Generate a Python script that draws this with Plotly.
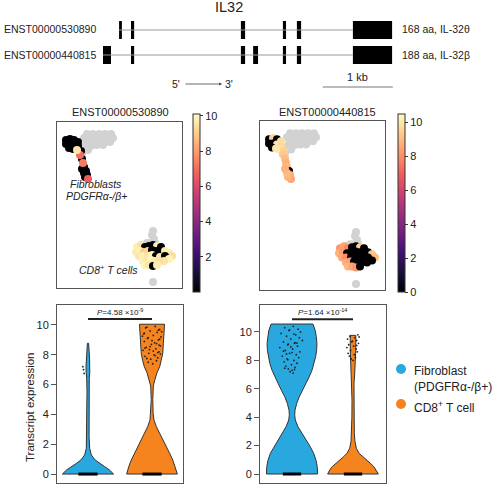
import plotly.graph_objects as go

W, H = 492, 486
FONT = "Liberation Sans, Arial, sans-serif"
BLUE = "#29A8E0"
ORANGE = "#F5841F"
GRAY_PT = "#D2D2D2"
EDGE = "#333333"

def px(x):
    return x / W

def py(y):
    return 1 - y / H

# ---------------- gene structure data (bp, relative to gene start) ----------------
gene_name = "IL32"
transcripts = ["ENST00000530890", "ENST00000440815"]
proteins = ["168 aa, IL-32θ", "188 aa, IL-32β"]
exon_starts_530890 = [230, 400, 1970, 2570, 2770, 3570]
exon_ends_530890 = [270, 445, 2030, 2615, 2830, 4130]
exon_starts_440815 = [0, 400, 1970, 2145, 2570, 2770, 3570]
exon_ends_440815 = [115, 445, 2030, 2215, 2615, 2830, 4130]
scale_bar_start = 3140
scale_bar_length = 1000  # 1 kb

# ---------------- UMAP data (embedding coordinates) ----------------
other_x = [30, 36, 42, 48, 54, 27, 33, 39, 45, 51, 56, 30, 36, 42, 48, 53, 28, 34, 40, 46, 26, 31, 25,
           96, 95, 97, 94, 98, 90, 86, 100, 96]
other_y = [12, 12, 12, 12, 12, 16, 16, 16, 16, 16, 16, 20, 20, 20, 20, 20, 24, 24, 23, 23, 28, 28, 32,
           109, 113, 117, 121, 121, 121, 123, 126, 160]

fib_x = [9, 13, 17, 21, 9, 13, 17, 21, 12, 16, 20, 24, 23, 25, 26, 27, 29, 30, 31, 28, 27, 25]
fib_y = [18, 17, 18, 20, 22, 22, 23, 24, 26, 27, 28, 29, 33, 37, 41, 45, 49, 53, 57, 55, 51, 47]
fib_expr_530890 = [0, 0, 0, 0, 0, 0, 0, 0, 0, 0, 9.6, 0, 7.0, 0, 7.3, 0, 0, 0, 6.6, 0, 0, 0]
fib_expr_440815 = [0, 9.5, 0, 9.8, 0, 0, 10, 9.7, 0, 10, 10, 9.5, 9.3, 9.0, 8.8, 9.0, 0, 8.7, 8.5, 8.8, 9.0, 8.8]

cd8_x = [80, 84, 88, 79, 83, 87, 82, 86,
         92, 96, 100, 104, 91, 95, 99, 103, 91, 95, 99, 103,
         108, 112, 115, 108, 112, 107,
         86, 90, 94, 98, 102, 88, 92, 96, 100]
cd8_y = [125, 123, 125, 130, 129, 130, 134, 134,
         124, 123, 124, 125, 129, 128, 129, 130, 134, 133, 134, 135,
         129, 131, 134, 134, 137, 139,
         139, 138, 138, 139, 139, 143, 143, 144, 143]
cd8_expr_530890 = [9.8, 9.5, 0, 9.7, 9.9, 9.0, 9.6, 9.8,
                   0, 0, 9.8, 0, 9.2, 0, 0, 0, 9.5, 9.9, 0, 9.6,
                   9.7, 9.8, 9.4, 0, 9.9, 9.5,
                   9.8, 9.6, 10, 9.7, 9.4, 9.9, 9.6, 0, 9.8]
cd8_expr_440815 = [8.2, 8.5, 7.8, 8.8, 8.3, 0, 8.6, 8.0,
                   0, 0, 9.5, 0, 0, 0, 0, 0, 0, 0, 0, 0,
                   0, 9.2, 9.0, 0, 0, 0,
                   8.7, 8.4, 0, 0, 0, 8.9, 8.5, 8.2, 0]

# ---------------- violin data (density profiles, normalized) ----------------
groups = ["Fibroblast<br>(PDGFRα-/β+)", "CD8<sup>+</sup> T cell"]
fibA_levels = [0, 0.27, 0.5, 0.72, 0.94, 1.28, 1.73, 2.5, 4, 5.5, 6.4, 6.8, 7.2, 7.7, 8.2, 8.77]
fibA_density = [1.0, 0.84, 0.65, 0.45, 0.28, 0.13, 0.066, 0.043, 0.039, 0.039, 0.05, 0.07, 0.078, 0.062, 0.047, 0.023]
cd8A_levels = [0, 0.49, 0.94, 1.39, 1.83, 2.28, 2.73, 3.18, 3.62, 4.07, 5.0, 5.9, 6.3, 6.8, 7.2, 7.6, 8.1, 8.77, 9.4, 9.8, 10.05]
cd8A_density = [0.99, 0.91, 0.81, 0.69, 0.56, 0.43, 0.30, 0.17, 0.078, 0.043, 0.031, 0.051, 0.106, 0.196, 0.30, 0.365, 0.42, 0.443, 0.47, 0.482, 0.49]
fibB_levels = [0, 0.52, 0.99, 1.46, 1.92, 2.39, 2.86, 3.33, 3.8, 4.15, 4.5, 4.97, 5.44, 5.9, 6.38, 6.85, 7.3, 7.8, 8.26, 8.7, 9.2, 9.67, 10.1, 10.56]
fibB_density = [1.0, 0.984, 0.934, 0.844, 0.712, 0.556, 0.389, 0.233, 0.128, 0.105, 0.117, 0.183, 0.284, 0.416, 0.545, 0.673, 0.778, 0.868, 0.922, 0.961, 0.973, 0.946, 0.907, 0.817]
cd8B_levels = [0, 0.28, 0.52, 0.75, 0.99, 1.22, 1.46, 1.81, 2.28, 2.86, 4, 5.2, 6.4, 7.1, 7.8, 8.7, 9.76]
cd8B_density = [0.99, 0.91, 0.81, 0.68, 0.52, 0.365, 0.235, 0.13, 0.078, 0.051, 0.043, 0.039, 0.039, 0.067, 0.09, 0.106, 0.11]
medians = [0, 0, 0, 0]

# strip points (values and jitter offsets)
fibA_pts = [7.2, 6.75, 7.0]
fibA_jit = [-0.08, -0.06, -0.07]
cd8A_pts = [9.9, 9.8, 9.7, 9.6, 9.5, 9.4, 9.3, 9.2, 9.1, 9.0, 8.9, 8.8, 8.7, 8.6, 8.5, 8.4, 8.3, 8.2, 8.1, 8.0, 7.9, 7.8, 7.7, 7.6, 7.5, 7.4,
            9.85, 9.55, 9.25, 8.95, 8.65, 8.35, 8.05, 7.75,
            9.65, 9.15, 8.75, 8.45, 8.25, 7.95, 9.45, 9.05, 8.55, 8.15]
cd8A_jit = [0.05, -0.10, 0.12, -0.03, 0.08, -0.13, 0.02, 0.14, -0.07, 0.10, -0.12, 0.04, -0.01, 0.13, -0.09, 0.06, -0.14, 0.11, -0.05, 0.03, -0.11, 0.09, -0.02, 0.07, -0.06, 0.01,
            -0.08, 0.15, -0.15, 0.00, 0.11, -0.04, 0.13, -0.08,
            0.10, -0.06, 0.07, -0.11, 0.02, 0.05, -0.12, 0.12, -0.03, 0.09]
fibB_pts = [10.4, 10.3, 10.2, 10.1, 10.0, 9.9, 9.8, 9.7, 9.6, 9.5, 9.4, 9.3, 9.2, 9.1, 9.0, 8.9, 8.8, 8.7, 8.6, 8.5, 8.4, 8.3, 8.2, 8.1, 8.0, 7.9, 7.8, 7.7, 7.6, 7.5, 7.4, 7.3, 7.2, 7.1,
            9.25, 9.15, 9.22, 8.65, 8.55, 8.45, 9.85, 10.15, 7.45, 7.35, 8.95, 8.05]
fibB_jit = [0.02, -0.12, 0.10, -0.05, 0.14, -0.18, 0.06, -0.09, 0.12, -0.02, 0.17, -0.14, 0.04, -0.07, 0.09, -0.20, 0.01, -0.11, 0.13, -0.04, 0.07, -0.16, 0.11, -0.08, 0.03, -0.13, 0.08, -0.01, -0.10, 0.05, -0.06, 0.00, -0.03, 0.02,
            0.05, -0.06, 0.08, -0.14, 0.00, -0.09, 0.03, -0.04, -0.12, 0.04, -0.02, -0.07]
cd8B_pts = [9.8, 9.7, 9.6, 9.5, 9.4, 9.3, 9.2, 9.1, 9.0, 8.9, 8.8, 8.7, 8.6, 8.5, 8.4, 8.3, 8.2, 8.1, 8.0, 9.65, 9.35, 9.05]
cd8B_jit = [0.08, -0.05, 0.03, -0.09, 0.06, -0.02, 0.09, -0.07, 0.01, -0.10, 0.05, -0.04, 0.07, -0.08, 0.02, -0.06, 0.04, -0.03, 0.00, 0.10, -0.01, 0.06]

p_values = ["<i>P</i>=4.58 ×10<sup>-9</sup>", "<i>P</i>=1.64 ×10<sup>-14</sup>"]

fig = go.Figure()

# ---------------- gene structure ----------------
for row, (st, en) in enumerate([(exon_starts_530890, exon_ends_530890), (exon_starts_440815, exon_ends_440815)], start=1):
    fig.add_trace(go.Scatter(x=[st[0], st[-1]], y=[row, row], mode="lines",
                             line=dict(color="#9a9a9a", width=1.2), xaxis="x", yaxis="y",
                             showlegend=False, hoverinfo="skip"))
    fig.add_trace(go.Bar(base=st, x=[e - s for s, e in zip(st, en)], y=[row] * len(st),
                         orientation="h", width=0.72, marker=dict(color="black", line=dict(width=0)),
                         xaxis="x", yaxis="y", showlegend=False, hoverinfo="skip"))
fig.add_trace(go.Scatter(x=[scale_bar_start, scale_bar_start + scale_bar_length], y=[3.28, 3.28],
                         mode="lines", line=dict(color="#777", width=1), xaxis="x", yaxis="y",
                         showlegend=False, hoverinfo="skip"))

# ---------------- UMAPs ----------------
nf = len(fib_x)
orderA = sorted(range(nf), key=lambda i: fib_expr_530890[i])
xA = [fib_x[i] for i in orderA] + cd8_x
yA = [fib_y[i] for i in orderA] + cd8_y
vA = [fib_expr_530890[i] for i in orderA] + cd8_expr_530890
xB = fib_x + cd8_x
yB = fib_y + cd8_y
vB = fib_expr_440815 + cd8_expr_440815

umap_specs = [
    ("x2", "y2", xA, yA, vA, 10.1, [2, 4, 6, 8, 10], 193),
    ("x3", "y3", xB, yB, vB, 10.5, [0, 2, 4, 6, 8, 10], 398),
]
for xa, ya, xs, ys, vals, cmax, tv, cbx in umap_specs:
    fig.add_trace(go.Scatter(x=other_x, y=other_y, mode="markers", xaxis=xa, yaxis=ya,
                             marker=dict(size=8, color=GRAY_PT, line=dict(width=0)),
                             showlegend=False, hoverinfo="skip"))
    fig.add_trace(go.Scatter(
        x=xs, y=ys, mode="markers", xaxis=xa, yaxis=ya, showlegend=False, hoverinfo="skip",
        marker=dict(size=8, color=vals, colorscale="Magma", cmin=0, cmax=cmax, line=dict(width=0),
                    showscale=True,
                    colorbar=dict(x=px(cbx), xanchor="left", xpad=0, y=py(114), yanchor="top", ypad=0,
                                  len=178, lenmode="pixels", thickness=7, thicknessmode="pixels",
                                  outlinewidth=1, outlinecolor=EDGE, tickvals=tv, ticks="outside",
                                  ticklen=3, tickcolor=EDGE, tickfont=dict(size=11, color="#222", family=FONT)))))

# ---------------- violins ----------------
def violin_poly(center, levels, dens, hw):
    xs = [center + hw * d for d in dens] + [center - hw * d for d in reversed(dens)]
    ys = list(levels) + list(reversed(levels))
    return xs + [xs[0]], ys + [ys[0]]

vio_specs = [
    ("x4", "y4", 0.40, [(fibA_levels, fibA_density, BLUE, fibA_pts, fibA_jit),
                        (cd8A_levels, cd8A_density, ORANGE, cd8A_pts, cd8A_jit)], 10.4),
    ("x5", "y5", 0.42, [(fibB_levels, fibB_density, BLUE, fibB_pts, fibB_jit),
                        (cd8B_levels, cd8B_density, ORANGE, cd8B_pts, cd8B_jit)], 10.9),
]
k = 0
for xa, ya, hw, vlist, ybr in vio_specs:
    for ci, (lv, dn, colr, pts, jit) in enumerate(vlist):
        vx, vy = violin_poly(ci, lv, dn, hw)
        fig.add_trace(go.Scatter(x=vx, y=vy, mode="lines", fill="toself", fillcolor=colr,
                                 line=dict(color=EDGE, width=1), xaxis=xa, yaxis=ya,
                                 name=groups[ci], showlegend=False, hoverinfo="skip"))
        fig.add_trace(go.Scatter(x=[ci - 0.15, ci + 0.15], y=[medians[k], medians[k]], mode="lines",
                                 line=dict(color="black", width=3), xaxis=xa, yaxis=ya,
                                 showlegend=False, hoverinfo="skip"))
        fig.add_trace(go.Scatter(x=[ci + j for j in jit], y=pts, mode="markers",
                                 marker=dict(size=1.8, color="#222"), xaxis=xa, yaxis=ya,
                                 showlegend=False, hoverinfo="skip"))
        k += 1
    fig.add_trace(go.Scatter(x=[0, 1], y=[ybr, ybr], mode="lines", line=dict(color="#222", width=2),
                             xaxis=xa, yaxis=ya, showlegend=False, hoverinfo="skip"))

# ---------------- layout ----------------
hidden = dict(visible=False)
box_axis = dict(showline=True, mirror=True, linecolor="#555", linewidth=1, showgrid=False,
                zeroline=False, showticklabels=False, ticks="")
vio_y = dict(showline=True, mirror=True, linecolor="#555", linewidth=1, showgrid=False, zeroline=False,
             tickvals=[0, 2, 4, 6, 8, 10], ticks="outside", ticklen=5, tickcolor="#555",
             tickfont=dict(size=11, color="#222", family=FONT))

fig.update_layout(
    width=W, height=H, margin=dict(l=0, r=0, t=0, b=0, autoexpand=False),
    paper_bgcolor="white", plot_bgcolor="rgba(0,0,0,0)",
    font=dict(family=FONT, color="#222"),
    xaxis=dict(domain=[0, 1], range=[-1471, 5557], **hidden),
    yaxis=dict(domain=[py(100), 1], range=[3.8, -0.2], **hidden),
    xaxis2=dict(domain=[px(57), px(182)], range=[0, 125], anchor="y2", **box_axis),
    yaxis2=dict(domain=[py(288), py(122)], range=[166, 0], anchor="x2", **box_axis),
    xaxis3=dict(domain=[px(260), px(385)], range=[0, 125], anchor="y3", **box_axis),
    yaxis3=dict(domain=[py(290), py(121)], range=[166, 0], anchor="x3", **box_axis),
    xaxis4=dict(domain=[px(57), px(183)], range=[-0.484, 1.484], anchor="y4", **box_axis),
    yaxis4=dict(domain=[py(483), py(305)], range=[-0.6, 11.34], anchor="x4", **vio_y),
    xaxis5=dict(domain=[px(260), px(386)], range=[-0.525, 1.541], anchor="y5", **box_axis),
    yaxis5=dict(domain=[py(483), py(305)], range=[-0.634, 11.9], anchor="x5", **vio_y),
    showlegend=False,
    barmode="overlay",
)

ann = []
def A(text, x, y, size=10.5, xanchor="center", yanchor="middle", **kw):
    ann.append(dict(text=text, x=x, y=y, xref="paper", yref="paper", showarrow=False,
                    xanchor=xanchor, yanchor=yanchor, font=dict(size=size, color="#222", family=FONT), **kw))

A(gene_name, px(229), py(7), size=14.5)
A(transcripts[0], px(2), py(29.5), xanchor="left")
A(transcripts[1], px(2), py(54.5), xanchor="left")
A(proteins[0], px(400), py(29.5), xanchor="left")
A(proteins[1], px(400), py(54.5), xanchor="left")
A("5'", px(182), py(84), xanchor="right", size=10.5)
A("3'", px(223), py(84), xanchor="left", size=10.5)
ann.append(dict(text="", x=px(222), y=py(84), xref="paper", yref="paper", ax=-38, ay=0,
                showarrow=True, arrowhead=2, arrowsize=0.7, arrowwidth=0.8, arrowcolor="#444"))
ann.append(dict(text="1 kb", x=scale_bar_start + scale_bar_length / 2, y=2.88, xref="x", yref="y",
                showarrow=False, font=dict(size=11, color="#222", family=FONT)))
A(transcripts[0], px(120), py(112), size=11)
A(transcripts[1], px(327), py(112), size=11)
A("<i>Fibroblasts</i>", px(96), py(184), size=10.5)
A("<i>PDGFRα-/β+</i>", px(96.5), py(196), size=10.5)
A("<i>CD8<sup>+</sup> T cells</i>", px(108), py(269), size=10.5)
A("Transcript expression", px(30), py(407), size=11.5, textangle=-90)
ann.append(dict(text=p_values[0], x=0.5, y=10.4, xref="x4", yref="y4", showarrow=False,
                yanchor="bottom", yshift=0, font=dict(size=8, color="#222", family=FONT)))
ann.append(dict(text=p_values[1], x=0.5, y=10.9, xref="x5", yref="y5", showarrow=False,
                yanchor="bottom", yshift=0, font=dict(size=8, color="#222", family=FONT)))

# legend (group keys)
legend_rows = [369, 404]
shapes = []
for name, colr, yy in zip(groups, [BLUE, ORANGE], legend_rows):
    shapes.append(dict(type="circle", xref="paper", yref="paper", x0=px(396), x1=px(406),
                       y0=py(yy + 5), y1=py(yy - 5), fillcolor=colr, line=dict(width=0)))
    A(name, px(412), py(yy - 7.5), size=12, xanchor="left", yanchor="top", align="left")
fig.update_layout(annotations=ann, shapes=shapes)

fig.write_html("out.html", config={"displayModeBar": False},
               post_script="document.body.style.margin='0px';document.body.style.overflow='hidden';")
